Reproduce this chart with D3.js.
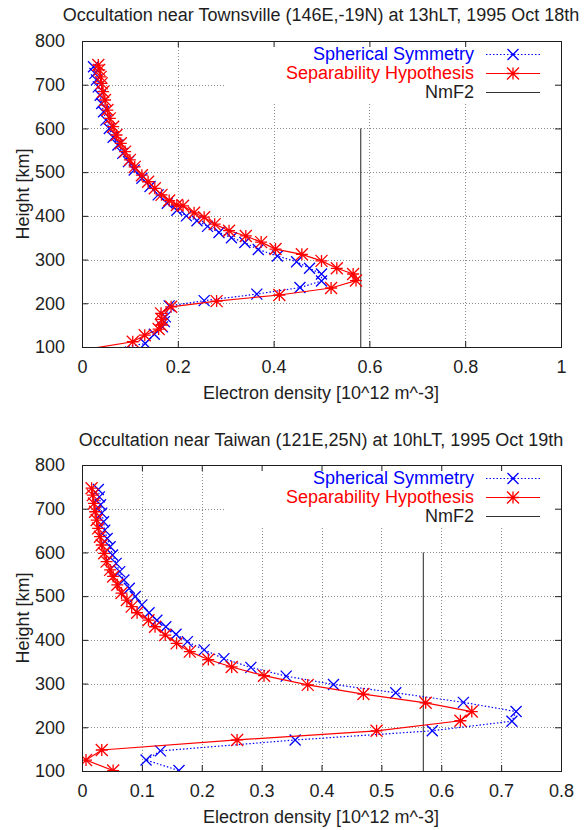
<!DOCTYPE html>
<html>
<head>
<meta charset="utf-8">
<script src="https://cdn.jsdelivr.net/npm/d3@7"></script>
<style>
html,body{margin:0;padding:0;background:#fff;}
svg{display:block;}
text{font-family:"Liberation Sans",Arial,Helvetica,sans-serif;font-size:18px;fill:#1e1e1e;}
</style>
</head>
<body>
<svg id="chart" width="584" height="830"></svg>
<script>
// ---------- DATA ----------
const title1 = "Occultation near Townsville (146E,-19N) at 13hLT, 1995 Oct 18th";
const title2 = "Occultation near Taiwan (121E,25N) at 10hLT, 1995 Oct 19th";
const xLabel = "Electron density [10^12 m^-3]";
const yLabel = "Height [km]";
const legendLabels = ["Spherical Symmetry", "Separability Hypothesis", "NmF2"];

const heightTicks = [100, 200, 300, 400, 500, 600, 700, 800];
const densityTicks1 = [0, 0.2, 0.4, 0.6, 0.8, 1];
const densityTicks2 = [0, 0.1, 0.2, 0.3, 0.4, 0.5, 0.6, 0.7, 0.8];

// Townsville - spherical symmetry
const townsvilleSphDensity = [0.024,0.027,0.030,0.034,0.038,0.041,0.045,0.050,0.057,0.065,0.075,0.085,0.097,0.109,0.125,0.142,0.159,0.178,0.198,0.218,0.240,0.262,0.286,0.312,0.340,0.368,0.408,0.448,0.475,0.500,0.500,0.455,0.365,0.255,0.182,0.174,0.172,0.168,0.151,0.132,0.050];
const townsvilleSphHeight  = [741,726,711,695,676,657,638,619,600,580,562,543,524,505,486,467,448,429,413,400,389,376,362,350,339,323,308,295,280,267,251,236,221,206,194,169,158,146,129,108,92];
// Townsville - separability hypothesis
const townsvilleSepDensity = [0.034,0.036,0.039,0.041,0.044,0.048,0.053,0.058,0.065,0.072,0.081,0.090,0.100,0.110,0.125,0.138,0.152,0.166,0.182,0.198,0.211,0.234,0.255,0.277,0.307,0.342,0.374,0.404,0.459,0.500,0.532,0.566,0.572,0.520,0.412,0.281,0.186,0.165,0.167,0.165,0.160,0.131,0.106,0.0];
const townsvilleSepHeight  = [745,734,718,703,684,665,642,623,604,585,566,547,528,512,493,478,463,448,435,425,423,407,397,381,366,354,340,324,312,297,280,267,252,235,219,205,192,177,163,150,141,127,112,93];
const townsvilleNmF2 = 0.582;

// Taiwan - spherical symmetry
const taiwanSphDensity = [0.0273,0.029,0.031,0.033,0.036,0.038,0.042,0.047,0.051,0.057,0.063,0.070,0.079,0.089,0.100,0.112,0.125,0.140,0.157,0.176,0.204,0.237,0.282,0.341,0.420,0.524,0.637,0.725,0.718,0.585,0.356,0.131,0.107,0.162];
const taiwanSphHeight  = [744,727,709,690,670,651,632,613,594,575,556,537,518,499,480,462,445,430,413,396,377,357,337,317,298,279,257,236,214,192,171,146,125,101];
// Taiwan - separability hypothesis
const taiwanSepDensity = [0.016,0.018,0.020,0.022,0.0245,0.027,0.030,0.033,0.037,0.041,0.047,0.052,0.059,0.066,0.075,0.083,0.092,0.111,0.122,0.139,0.158,0.180,0.211,0.250,0.304,0.377,0.470,0.574,0.651,0.632,0.492,0.259,0.033,0.0067,0.052];
const taiwanSepHeight  = [747,731,712,693,674,655,636,617,598,579,560,545,526,507,491,476,462,445,430,411,392,373,355,338,318,297,276,256,236,215,192,171,148,125,101];
const taiwanNmF2 = 0.570;

// ---------- DRAW ----------
const svg = d3.select("#chart");
const BLUE = "#0000ff", RED = "#ff0000", GRID = "#8a8a8a", INK = "#1e1e1e";

function xMarker(g, x, y, s, color){
  g.append("path").attr("d", `M${x-s},${y-s}L${x+s},${y+s}M${x-s},${y+s}L${x+s},${y-s}`)
   .attr("stroke", color).attr("stroke-width", 1.3).attr("fill", "none");
}
function starMarker(g, x, y, s, color){
  g.append("path").attr("d", `M${x-s},${y}L${x+s},${y}M${x},${y-s}L${x},${y+s}M${x-s},${y-s}L${x+s},${y+s}M${x-s},${y+s}L${x+s},${y-s}`)
   .attr("stroke", color).attr("stroke-width", 1.3).attr("fill", "none");
}

function panel(cfg){
  const L = 82, R = 561, T = cfg.top, B = cfg.top + 306;
  const x = d3.scaleLinear().domain([0, cfg.xMax]).range([L, R]);
  const y = d3.scaleLinear().domain([100, 800]).range([B, T]);
  const g = svg.append("g");
  const clipId = "clip" + cfg.id;
  g.append("clipPath").attr("id", clipId).append("rect")
    .attr("x", L).attr("y", T).attr("width", R - L).attr("height", B - T);

  // title
  g.append("text").attr("x", 321).attr("y", cfg.titleY).attr("text-anchor", "middle").text(cfg.title);

  // grid
  const grid = g.append("g").attr("stroke", GRID).attr("stroke-width", 1).attr("stroke-dasharray", "1,2");
  cfg.xTicks.slice(1, -1).forEach(t => {
    grid.append("line").attr("x1", Math.round(x(t)) + 0.5).attr("x2", Math.round(x(t)) + 0.5).attr("y1", T).attr("y2", B);
  });
  heightTicks.slice(1, -1).forEach(t => {
    grid.append("line").attr("x1", L).attr("x2", R).attr("y1", Math.round(y(t)) + 0.5).attr("y2", Math.round(y(t)) + 0.5);
  });
  // key area blanks grid
  g.append("rect").attr("x", 226).attr("y", T + 1).attr("width", R - 226 - 1).attr("height", 60).attr("fill", "#fff");

  // axes (ticks inward, mirrored)
  const xAxB = d3.axisBottom(x).tickValues(cfg.xTicks).tickSize(-6).tickPadding(13).tickFormat(d3.format("~g"));
  const xAxT = d3.axisTop(x).tickValues(cfg.xTicks).tickSize(-6).tickFormat("");
  const yAxL = d3.axisLeft(y).tickValues(heightTicks).tickSize(-6).tickPadding(17);
  const yAxR = d3.axisRight(y).tickValues(heightTicks).tickSize(-6).tickFormat("");
  [[xAxB, `translate(0,${B})`], [xAxT, `translate(0,${T})`], [yAxL, `translate(${L},0)`], [yAxR, `translate(${R},0)`]].forEach(([ax, tr]) => {
    const a = g.append("g").attr("transform", tr).call(ax);
    a.select(".domain").remove();
    a.selectAll("line").attr("stroke", INK);
    a.selectAll("text").attr("font-family", null).attr("font-size", null).style("fill", INK);
  });

  // NmF2 vertical line
  g.append("line").attr("x1", x(cfg.nmf2)).attr("x2", x(cfg.nmf2)).attr("y1", y(100)).attr("y2", y(600))
    .attr("stroke", "#222").attr("stroke-width", 1);

  // series
  const line = d3.line().x(d => x(d[0])).y(d => y(d[1]));
  const sph = cfg.sphD.map((v, i) => [v, cfg.sphH[i]]);
  const sep = cfg.sepD.map((v, i) => [v, cfg.sepH[i]]);
  const data = g.append("g").attr("clip-path", `url(#${clipId})`);
  data.append("path").datum(sph).attr("d", line).attr("fill", "none").attr("stroke", BLUE)
    .attr("stroke-width", 1.2).attr("stroke-dasharray", "1.5,2");
  sph.filter(d => d[1] >= 100).forEach(d => xMarker(data, x(d[0]), y(d[1]), 5.5, BLUE));
  data.append("path").datum(sep).attr("d", line).attr("fill", "none").attr("stroke", RED).attr("stroke-width", 1.2);
  sep.filter(d => d[1] >= 100).forEach(d => starMarker(data, x(d[0]), y(d[1]), 6, RED));

  // border
  g.append("rect").attr("x", L + 0.5).attr("y", T + 0.5).attr("width", R - L).attr("height", B - T)
    .attr("fill", "none").attr("stroke", INK).attr("stroke-width", 1);

  // legend
  const ky = [T + 13, T + 32, T + 51];
  const cols = [BLUE, RED, INK];
  legendLabels.forEach((lab, i) => {
    g.append("text").attr("x", 474).attr("y", ky[i] + 6).attr("text-anchor", "end").style("fill", cols[i]).text(lab);
    const ln = g.append("line").attr("x1", 486).attr("x2", 540).attr("y1", ky[i] + 0.5).attr("y2", ky[i] + 0.5)
      .attr("stroke", i === 2 ? "#333" : cols[i]).attr("stroke-width", 1.2);
    if (i === 0) ln.attr("stroke-dasharray", "1.5,2");
  });
  xMarker(g, 513, ky[0] + 0.5, 5.5, BLUE);
  starMarker(g, 513, ky[1] + 0.5, 6, RED);

  // axis labels
  g.append("text").attr("x", 321).attr("y", B + 52).attr("text-anchor", "middle").text(xLabel);
  g.append("text").attr("transform", `translate(29,${(T + B) / 2}) rotate(-90)`).attr("text-anchor", "middle").text(yLabel);
}

panel({id: 1, top: 41, xMax: 1, xTicks: densityTicks1, title: title1, titleY: 21,
  sphD: townsvilleSphDensity, sphH: townsvilleSphHeight, sepD: townsvilleSepDensity, sepH: townsvilleSepHeight, nmf2: townsvilleNmF2});
panel({id: 2, top: 465, xMax: 0.8, xTicks: densityTicks2, title: title2, titleY: 446,
  sphD: taiwanSphDensity, sphH: taiwanSphHeight, sepD: taiwanSepDensity, sepH: taiwanSepHeight, nmf2: taiwanNmF2});
</script>
</body>
</html>
